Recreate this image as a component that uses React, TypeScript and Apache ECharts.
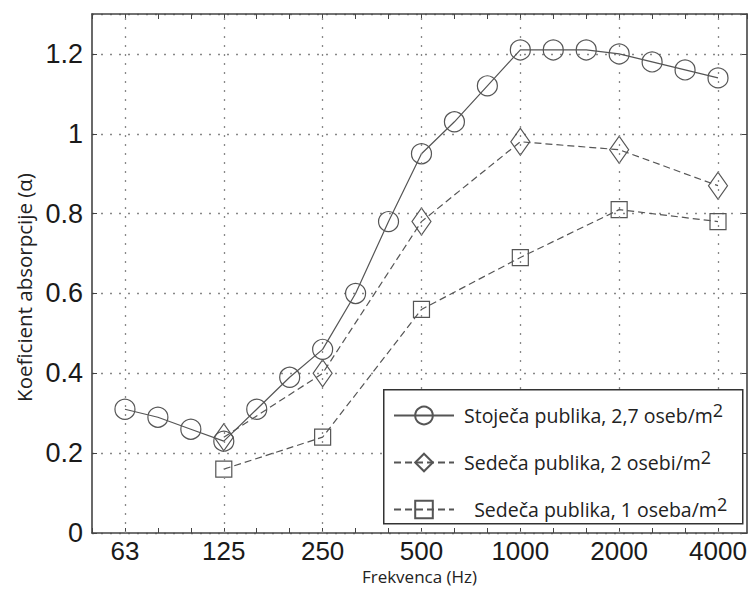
import { useEffect, useRef } from "react";
import * as echarts from "echarts";

// Third-octave band centre frequencies (Hz)
const bands = ["63", "80", "100", "125", "160", "200", "250", "315", "400", "500", "630", "800", "1000", "1250", "1600", "2000", "2500", "3150", "4000"];
// Labelled ticks on the frequency axis
const tickLabels = ["63", "125", "250", "500", "1000", "2000", "4000"];

// Stoječa publika, 2,7 oseb/m² (third-octave bands)
const standing = [0.31, 0.29, 0.26, 0.23, 0.31, 0.39, 0.46, 0.6, 0.78, 0.95, 1.03, 1.12, 1.21, 1.21, 1.21, 1.2, 1.18, 1.16, 1.14];

// Octave bands for the seated audience
const octaveBands = ["125", "250", "500", "1000", "2000", "4000"];
// Sedeča publika, 2 osebi/m²
const seated2 = [0.24, 0.4, 0.78, 0.98, 0.96, 0.87];
// Sedeča publika, 1 oseba/m²
const seated1 = [0.16, 0.24, 0.56, 0.69, 0.81, 0.78];

const seriesNames = [
  "Stoječa publika, 2,7 oseb/m²",
  "Sedeča publika, 2 osebi/m²",
  "Sedeča publika, 1 oseba/m²",
];

export default function App() {
  const ref = useRef<HTMLDivElement>(null);

  useEffect(() => {
    const chart = echarts.init(ref.current!, undefined, { renderer: "svg" });
    const idx = (f: string) => bands.indexOf(f);
    const gridIdx = tickLabels.map(idx);
    const axisColor = "#444";
    const lineColor = "#555";
    const hGrid = { type: [2, 7], color: "#888", width: 1.3 };
    const vGrid = { type: [2, 7], color: "#888", width: 1.3 };
    const labelFont = { fontFamily: "Liberation Sans", fontSize: 27, color: "#1a1a1a" };
    const titleFont = { fontFamily: "Open Sans", fontSize: 19, color: "#222" };

    const xCommon = {
      type: "value",
      min: -1,
      max: 18.88,
      interval: 1,
      axisLine: { show: true, onZero: false, lineStyle: { color: axisColor, width: 1.6 } },
      axisTick: { show: true, inside: true, length: 5, lineStyle: { color: axisColor, width: 1 } },
      splitLine: { show: false },
    };
    const yCommon = {
      type: "value",
      min: 0,
      max: 1.3,
      interval: 0.2,
      axisLine: { show: true, onZero: false, lineStyle: { color: axisColor, width: 1.6 } },
      axisTick: { show: true, inside: true, length: 5, lineStyle: { color: axisColor, width: 1 } },
    };

    const symStyle = { color: "transparent", borderColor: lineColor, borderWidth: 1.2 };

    chart.setOption({
      animation: false,
      backgroundColor: "#fff",
      grid: { left: 92, right: 5, top: 14, bottom: 56, containLabel: false, outerBoundsMode: "none" },
      xAxis: [
        {
          ...xCommon,
          position: "bottom",
          name: "Frekvenca (Hz)",
          nameLocation: "middle",
          nameGap: 34,
          nameMoveOverlap: false,
          nameTextStyle: { ...titleFont, fontSize: 17, lineHeight: 18 },
          axisLabel: {
            ...labelFont,
            fontSize: 26,
            lineHeight: 26,
            margin: 5,
            showMaxLabel: false,
            formatter: (v: number) => {
              const i = Math.round(v);
              if (Math.abs(v - i) > 1e-6) return "";
              const f = bands[i];
              return f && tickLabels.includes(f) ? f : "";
            },
          },
        },
        {
          ...xCommon,
          position: "top",
          axisLabel: { show: false },
        },
      ],
      yAxis: [
        {
          ...yCommon,
          position: "left",
          name: "Koeficient absorpcije (α)",
          nameLocation: "middle",
          nameRotate: 90,
          nameGap: 58,
          nameMoveOverlap: false,
          nameTextStyle: { ...titleFont, fontSize: 20.5, padding: [0, 28, 0, 0] },
          axisLabel: { ...labelFont, margin: 9, showMaxLabel: false },
          splitLine: { show: true, showMinLine: true, showMaxLine: true, lineStyle: hGrid },
        },
        {
          ...yCommon,
          position: "right",
          axisLabel: { show: false },
          splitLine: { show: false },
        },
      ],
      legend: {
        orient: "vertical",
        left: 393,
        top: 401,
        padding: 0,
        itemWidth: 60,
        itemHeight: 22,
        itemGap: 18,
        selectedMode: false,
        z: 10,
        data: seriesNames,
        formatter: (name: string) => {
          const i = seriesNames.indexOf(name);
          const pre = i === 2 ? "  " : "";
          return pre + name.replace("²", "{sup|2}");
        },
        textStyle: {
          fontFamily: "Open Sans",
          fontSize: 19.5,
          color: "#222",
          lineHeight: 22,
          padding: [0, 0, 0, 5],
          rich: {
            sup: { fontFamily: "Open Sans", fontSize: 18, color: "#222", lineHeight: 22, padding: [0, 0, 11, 0] },
          },
        },
      },
      graphic: [
        {
          type: "rect",
          left: 383,
          top: 389,
          z: 9,
          shape: { width: 359, height: 134 },
          style: { fill: "#fff", stroke: "#333", lineWidth: 1.5 },
          silent: true,
        },
      ],
      series: [
        {
          name: seriesNames[0],
          type: "line",
          data: standing.map((v, i) => [i, v]),
          symbol: "circle",
          symbolSize: 20,
          itemStyle: symStyle,
          lineStyle: { color: lineColor, width: 1.2, type: "solid" },
          emphasis: { disabled: true },
          z: 3,
          markLine: {
            silent: true,
            symbol: ["none", "none"],
            label: { show: false },
            lineStyle: vGrid,
            emphasis: { disabled: true },
            data: gridIdx.map((x) => ({ xAxis: x })),
          },
        },
        {
          name: seriesNames[1],
          type: "line",
          data: octaveBands.map((f, i) => [idx(f), seated2[i]]),
          symbol: "diamond",
          symbolSize: [19, 27],
          itemStyle: symStyle,
          lineStyle: { color: lineColor, width: 1.2, type: [7, 4] },
          emphasis: { disabled: true },
          z: 3,
        },
        {
          name: seriesNames[2],
          type: "line",
          data: octaveBands.map((f, i) => [idx(f), seated1[i]]),
          symbol: "rect",
          symbolSize: 16,
          itemStyle: symStyle,
          lineStyle: { color: lineColor, width: 1.2, type: [7, 4] },
          emphasis: { disabled: true },
          z: 3,
        },
      ],
    });

    return () => chart.dispose();
  }, []);

  return (
    <div
      ref={ref}
      style={{ position: "fixed", left: 0, top: 0, width: 752, height: 589, background: "#fff" }}
    />
  );
}
